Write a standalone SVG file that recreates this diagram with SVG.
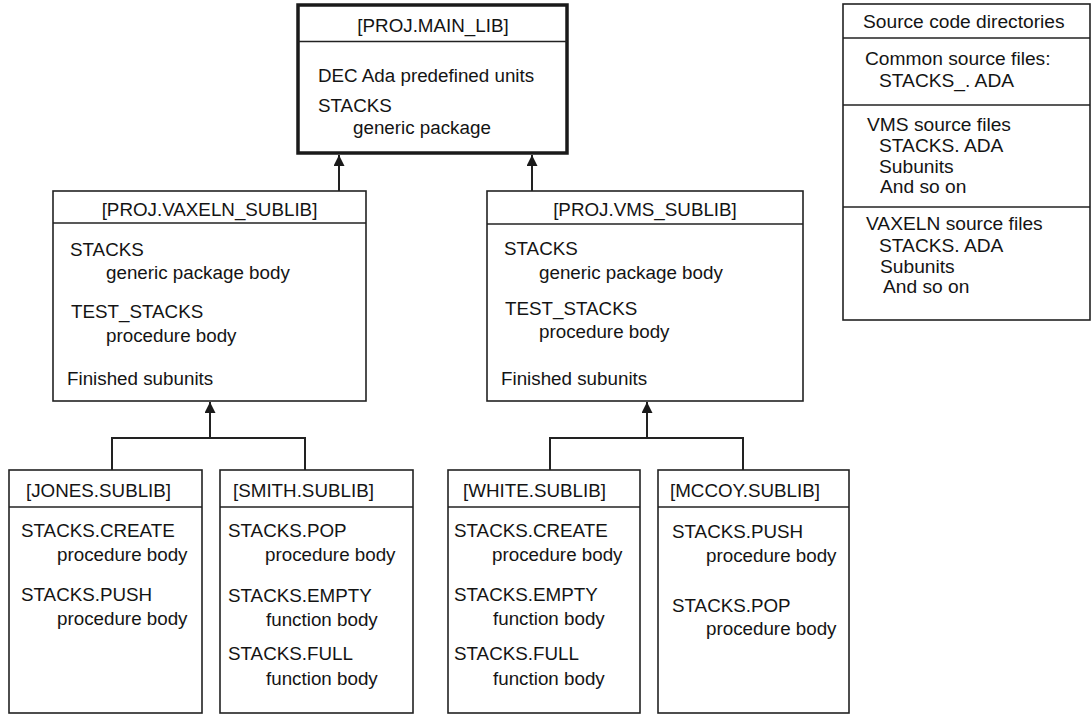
<svg xmlns="http://www.w3.org/2000/svg" width="1091" height="715" viewBox="0 0 1091 715">
  <style>
    text { font-family: "Liberation Sans", Arial, Helvetica, sans-serif; font-size: 18.8px; fill: #141414; }
    .title { text-anchor: middle; }
    .legend text { font-size: 19.2px; }
    .box { fill: #ffffff; stroke: #222222; stroke-width: 1.6; }
    .main { fill: #ffffff; stroke: #1a1a1a; stroke-width: 3.5; }
    .rule { stroke: #222222; stroke-width: 1.6; fill: none; }
    .link { stroke: #222222; stroke-width: 2; fill: none; }
    .arrow { stroke: #222222; stroke-width: 2; fill: none; marker-end: url(#tip); }
  </style>
  <defs>
    <marker id="tip" viewBox="0 0 10 10" refX="10" refY="5" markerWidth="11" markerHeight="11" markerUnits="userSpaceOnUse" orient="auto">
      <path d="M0,0 L10,5 L0,10 z" fill="#1a1a1a"/>
    </marker>
  </defs>

  <rect width="1091" height="715" fill="#ffffff"/>

  <!-- connectors -->
  <g id="connectors">
    <line class="arrow" x1="339" y1="191" x2="339" y2="155"/>
    <line class="arrow" x1="532" y1="191" x2="532" y2="155"/>
    <path class="link" d="M112,470 V438 H305 V470"/>
    <line class="arrow" x1="210" y1="438" x2="210" y2="402"/>
    <path class="link" d="M550,470 V438 H743 V470"/>
    <line class="arrow" x1="647" y1="438" x2="647" y2="402"/>
  </g>

  <!-- top library -->
  <g id="main-lib">
    <rect class="main" x="298" y="5" width="269" height="148"/>
    <line class="rule" x1="298" y1="41.5" x2="567" y2="41.5"/>
    <text class="title" x="433" y="32">[PROJ.MAIN_LIB]</text>
    <text x="318" y="82">DEC Ada predefined units</text>
    <text x="318" y="112">STACKS</text>
    <text x="353" y="134">generic package</text>
  </g>

  <!-- VAXELN sublibrary -->
  <g id="vaxeln-sublib">
    <rect class="box" x="53" y="191" width="313" height="210"/>
    <line class="rule" x1="53" y1="223" x2="366" y2="223"/>
    <text class="title" x="209.5" y="216">[PROJ.VAXELN_SUBLIB]</text>
    <text x="70" y="256">STACKS</text>
    <text x="106" y="279">generic package body</text>
    <text x="71" y="318">TEST_STACKS</text>
    <text x="106" y="342">procedure body</text>
    <text x="67" y="385">Finished subunits</text>
  </g>

  <!-- VMS sublibrary -->
  <g id="vms-sublib">
    <rect class="box" x="487" y="191" width="316" height="210"/>
    <line class="rule" x1="487" y1="224" x2="803" y2="224"/>
    <text class="title" x="645" y="216">[PROJ.VMS_SUBLIB]</text>
    <text x="504" y="255">STACKS</text>
    <text x="539" y="279">generic package body</text>
    <text x="505" y="315">TEST_STACKS</text>
    <text x="539" y="338">procedure body</text>
    <text x="501" y="385">Finished subunits</text>
  </g>

  <!-- user sublibraries -->
  <g id="jones-sublib">
    <rect class="box" x="9" y="470" width="193" height="243"/>
    <line class="rule" x1="9" y1="507" x2="202" y2="507"/>
    <text x="26" y="497">[JONES.SUBLIB]</text>
    <text x="21" y="537">STACKS.CREATE</text>
    <text x="57" y="561">procedure body</text>
    <text x="21" y="601">STACKS.PUSH</text>
    <text x="57" y="625">procedure body</text>
  </g>

  <g id="smith-sublib">
    <rect class="box" x="220" y="470" width="193" height="243"/>
    <line class="rule" x1="220" y1="507" x2="413" y2="507"/>
    <text x="233" y="497">[SMITH.SUBLIB]</text>
    <text x="228" y="537">STACKS.POP</text>
    <text x="265" y="561">procedure body</text>
    <text x="228" y="602">STACKS.EMPTY</text>
    <text x="266" y="626">function body</text>
    <text x="228" y="660">STACKS.FULL</text>
    <text x="266" y="685">function body</text>
  </g>

  <g id="white-sublib">
    <rect class="box" x="448" y="470" width="192" height="243"/>
    <line class="rule" x1="448" y1="507" x2="640" y2="507"/>
    <text x="463" y="497">[WHITE.SUBLIB]</text>
    <text x="454" y="537">STACKS.CREATE</text>
    <text x="492" y="561">procedure body</text>
    <text x="454" y="601">STACKS.EMPTY</text>
    <text x="493" y="625">function body</text>
    <text x="454" y="660">STACKS.FULL</text>
    <text x="493" y="685">function body</text>
  </g>

  <g id="mccoy-sublib">
    <rect class="box" x="658" y="470" width="191" height="243"/>
    <line class="rule" x1="658" y1="507" x2="849" y2="507"/>
    <text x="670" y="497">[MCCOY.SUBLIB]</text>
    <text x="672" y="538">STACKS.PUSH</text>
    <text x="706" y="562">procedure body</text>
    <text x="672" y="612">STACKS.POP</text>
    <text x="706" y="635">procedure body</text>
  </g>

  <!-- source directory table -->
  <g id="source-dirs" class="legend">
    <rect class="box" x="843" y="4" width="247" height="316"/>
    <line class="rule" x1="843" y1="38" x2="1090" y2="38"/>
    <line class="rule" x1="843" y1="105" x2="1090" y2="105"/>
    <line class="rule" x1="843" y1="207" x2="1090" y2="207"/>
    <text x="863" y="28">Source code directories</text>
    <text x="865" y="65">Common source files:</text>
    <text x="879" y="87">STACKS_. ADA</text>
    <text x="867" y="131">VMS source files</text>
    <text x="879" y="152">STACKS. ADA</text>
    <text x="879" y="173">Subunits</text>
    <text x="880" y="193">And so on</text>
    <text x="866" y="230">VAXELN source files</text>
    <text x="879" y="252">STACKS. ADA</text>
    <text x="880" y="273">Subunits</text>
    <text x="883" y="293">And so on</text>
  </g>
</svg>
